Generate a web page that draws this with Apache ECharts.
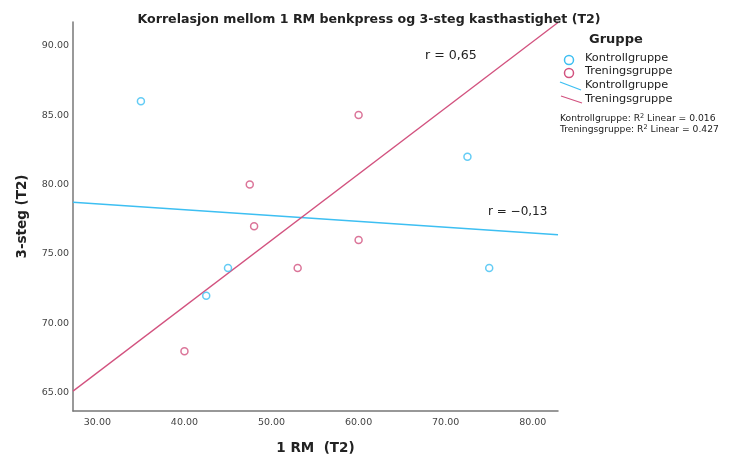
<!DOCTYPE html>
<html>
<head>
<meta charset="utf-8">
<script src="https://cdn.jsdelivr.net/npm/echarts@6/dist/echarts.min.js"></script>
<style>
  html, body { margin: 0; padding: 0; background: #fff; }
  #chart { width: 736px; height: 457px; }
</style>
</head>
<body>
<div id="chart"></div>
<script>
// data
var kontrollX = [35, 42.5, 45, 72.5, 75];
var kontrollY = [86, 72, 74, 82, 74];
var treningX = [40, 47.5, 48, 53, 60, 60];
var treningY = [68, 80, 77, 74, 85, 76];
var groupNames = ['Kontrollgruppe', 'Treningsgruppe'];
var rLabels = ['r = \u22120,13', 'r = 0,65'];
var r2Labels = ['0.016', '0.427'];

var xMin = 27.2, xMax = 82.9;
var yMin = 63.7, yMax = 91.7;

var blue = '#3dbff2', red = '#d2527f';
var font = 'DejaVu Sans';

function pairs(xs, ys) {
  return xs.map(function (x, i) { return [x, ys[i]]; });
}

// least squares fit line, evaluated at the axis ends
function fitLine(xs, ys) {
  var n = xs.length, mx = 0, my = 0, sxy = 0, sxx = 0;
  xs.forEach(function (x, i) { mx += x / n; my += ys[i] / n; });
  xs.forEach(function (x, i) { sxy += (x - mx) * (ys[i] - my); sxx += (x - mx) * (x - mx); });
  var b = sxy / sxx;
  return [[xMin, my + b * (xMin - mx)], [xMax, my + b * (xMax - mx)]];
}

function tickFmt(step) {
  return function (v) {
    return Math.abs(v / step - Math.round(v / step)) < 1e-6 ? v.toFixed(2) : '';
  };
}

var chart = echarts.init(document.getElementById('chart'), null, { renderer: 'canvas' });

var legendTxt = { fontFamily: font, fontSize: 11.3, fill: '#222' };
var r2Style = function (i, top) {
  return {
    type: 'text', left: 560, top: top,
    style: {
      text: groupNames[i] + ': R{s|2} Linear = ' + r2Labels[i],
      fontFamily: font, fontSize: 9.2, fill: '#222',
      rich: { s: { fontFamily: font, fontSize: 6.5, verticalAlign: 'top', padding: [0, 0, 5, 0] } }
    }
  };
};

chart.setOption({
  animation: false,
  title: {
    text: 'Korrelasjon mellom 1 RM benkpress og 3-steg kasthastighet (T2)',
    left: 364, top: 8, textAlign: 'center',
    textStyle: { fontFamily: font, fontSize: 12.6, fontWeight: 'bold', color: '#222' }
  },
  grid: { left: 73, right: 178, top: 22, bottom: 46, outerBoundsMode: 'none' },
  xAxis: {
    type: 'value', min: xMin, max: xMax,
    name: '1 RM  (T2)', nameLocation: 'middle', nameGap: 30,
    nameTextStyle: { fontFamily: font, fontSize: 13.5, fontWeight: 'bold', color: '#222' },
    axisLine: { show: true, lineStyle: { color: '#777', width: 1.5 } },
    axisTick: { show: false },
    splitLine: { show: false },
    axisLabel: { formatter: tickFmt(10), margin: 7, fontFamily: font, fontSize: 9.5, color: '#444' }
  },
  yAxis: {
    type: 'value', min: yMin, max: yMax,
    name: '3-steg (T2)', nameLocation: 'middle', nameGap: 44,
    nameTextStyle: { fontFamily: font, fontSize: 13.5, fontWeight: 'bold', color: '#222' },
    axisLine: { show: true, lineStyle: { color: '#777', width: 1.5 } },
    axisTick: { show: false },
    splitLine: { show: false },
    axisLabel: { formatter: tickFmt(5), margin: 4, fontFamily: font, fontSize: 9.5, color: '#444' }
  },
  series: [
    {
      name: groupNames[0], type: 'scatter', data: pairs(kontrollX, kontrollY),
      symbol: 'circle', symbolSize: 7,
      itemStyle: { color: '#fff', borderColor: blue, borderWidth: 1.5 }
    },
    {
      name: groupNames[1], type: 'scatter', data: pairs(treningX, treningY),
      symbol: 'circle', symbolSize: 7,
      itemStyle: { color: '#fff', borderColor: red, borderWidth: 1.5 }
    },
    {
      type: 'line', data: fitLine(kontrollX, kontrollY), symbol: 'none', z: 1,
      lineStyle: { color: blue, width: 1.3 }
    },
    {
      type: 'line', data: fitLine(treningX, treningY), symbol: 'none', z: 1,
      lineStyle: { color: red, width: 1.3 }
    }
  ],
  graphic: [
    { type: 'text', left: 425, top: 49, style: { text: rLabels[1], fontFamily: font, fontSize: 12.6, fill: '#222' } },
    { type: 'text', left: 488, top: 206, style: { text: rLabels[0], fontFamily: font, fontSize: 12, fill: '#222' } },
    // legend
    { type: 'text', left: 589, top: 33, style: { text: 'Gruppe', fontFamily: font, fontSize: 13, fontWeight: 'bold', fill: '#222' } },
    { type: 'circle', shape: { cx: 569, cy: 60, r: 4.5 }, style: { fill: '#fff', stroke: blue, lineWidth: 1.5 } },
    { type: 'text', left: 585, top: 53, style: Object.assign({ text: groupNames[0] }, legendTxt) },
    { type: 'circle', shape: { cx: 569, cy: 73, r: 4.5 }, style: { fill: '#fff', stroke: red, lineWidth: 1.5 } },
    { type: 'text', left: 585, top: 66, style: Object.assign({ text: groupNames[1] }, legendTxt) },
    { type: 'line', shape: { x1: 560, y1: 82, x2: 581, y2: 90 }, style: { stroke: blue, lineWidth: 1.3 } },
    { type: 'text', left: 585, top: 80, style: Object.assign({ text: groupNames[0] }, legendTxt) },
    { type: 'line', shape: { x1: 561, y1: 96, x2: 582, y2: 103 }, style: { stroke: red, lineWidth: 1.3 } },
    { type: 'text', left: 585, top: 94, style: Object.assign({ text: groupNames[1] }, legendTxt) },
    r2Style(0, 113),
    r2Style(1, 124)
  ]
});
</script>
</body>
</html>
